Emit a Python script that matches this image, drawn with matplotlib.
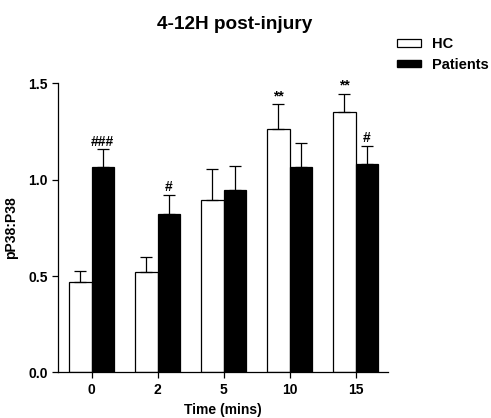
import numpy as np
import matplotlib
matplotlib.use('Agg')
import matplotlib.pyplot as plt
from matplotlib.patches import Patch

# --- Dados ---
tempos = ['0', '2', '5', '10', '15']
hc_media = [0.467, 0.522, 0.894, 1.263, 1.352]
hc_erro = [0.060, 0.075, 0.163, 0.128, 0.094]
pac_media = [1.064, 0.821, 0.946, 1.064, 1.083]
pac_erro = [0.093, 0.100, 0.126, 0.126, 0.090]
hc_sig = ['', '', '', '**', '**']
pac_sig = ['###', '#', '', '', '#']

plt.rcParams['font.family'] = ['Liberation Sans', 'DejaVu Sans']
plt.rcParams['font.weight'] = 'bold'

fig = plt.figure(figsize=(4.91, 4.18), dpi=100)
ax = fig.add_axes([0.118, 0.109, 0.672, 0.692])

x = np.arange(len(tempos))
largura = 0.338
estilo_erro = dict(ecolor='black', elinewidth=0.9, capsize=4.5, capthick=0.9)

ax.bar(x - largura / 2, hc_media, largura, color='white', edgecolor='black',
       linewidth=0.9, yerr=[np.zeros(len(hc_erro)), hc_erro],
       error_kw=estilo_erro, zorder=2)
ax.bar(x + largura / 2, pac_media, largura, color='black', edgecolor='black',
       linewidth=0.9, yerr=[np.zeros(len(pac_erro)), pac_erro],
       error_kw=estilo_erro, zorder=2)

# Marcas de significância
for i in range(len(tempos)):
    if hc_sig[i]:
        ax.text(x[i] - largura / 2, hc_media[i] + hc_erro[i] + 0.004, hc_sig[i],
                ha='center', va='bottom', fontsize=10, fontweight='bold')
    if pac_sig[i]:
        ax.text(x[i] + largura / 2, pac_media[i] + pac_erro[i] + 0.004, pac_sig[i],
                ha='center', va='bottom', fontsize=10, fontweight='bold')

ax.set_xlim(-0.51, 4.49)
ax.set_ylim(0, 1.5)
ax.set_yticks([0.0, 0.5, 1.0, 1.5])
ax.set_yticklabels(['0.0', '0.5', '1.0', '1.5'])
ax.set_xticks(x)
ax.set_xticklabels(tempos)
ax.tick_params(axis='both', labelsize=10, width=0.9, length=4, direction='out')
for lbl in ax.get_xticklabels() + ax.get_yticklabels():
    lbl.set_fontweight('bold')

ax.spines['top'].set_visible(False)
ax.spines['right'].set_visible(False)
ax.spines['left'].set_linewidth(0.9)
ax.spines['bottom'].set_linewidth(0.9)

ax.set_xlabel('Time (mins)', fontsize=10, fontweight='bold', labelpad=4.5)
ax.set_ylabel('pP38:P38', fontsize=10, fontweight='bold', labelpad=7)
fig.text(0.477, 0.942, '4-12H post-injury', ha='center', va='center',
         fontsize=13.7, fontweight='bold')

legenda = [Patch(facecolor='white', edgecolor='black', linewidth=0.9, label='HC'),
           Patch(facecolor='black', edgecolor='black', label='Patients')]
fig.legend(handles=legenda, loc='upper left', bbox_to_anchor=(0.8086, 0.912),
           frameon=False, handlelength=1.65, handleheight=0.45,
           handletextpad=0.75, labelspacing=0.47, borderpad=0, borderaxespad=0,
           prop={'weight': 'bold', 'size': 10.5})

fig.savefig('out.png', dpi=100)
